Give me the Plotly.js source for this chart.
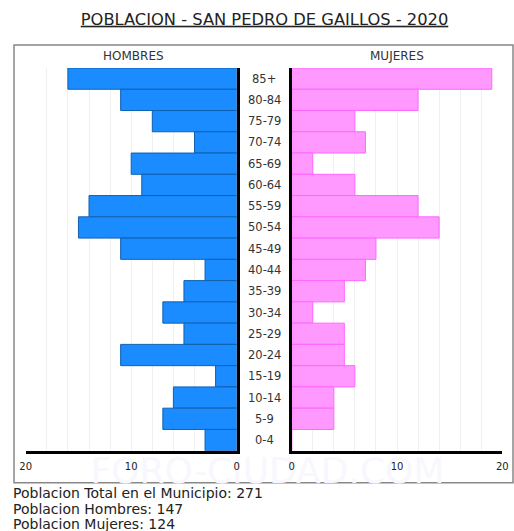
<!DOCTYPE html>
<html>
<head>
<meta charset="utf-8">
<script src="https://cdn.plot.ly/plotly-3.0.1.min.js"></script>
<style>
  html, body { margin: 0; padding: 0; background: #fff; }
  #chart { width: 514px; height: 531px; }
</style>
</head>
<body>
<div id="chart"></div>
<script>
const ages = ['85+','80-84','75-79','70-74','65-69','60-64','55-59','50-54','45-49','40-44','35-39','30-34','25-29','20-24','15-19','10-14','5-9','0-4'];
const hombres = [16,11,8,4,10,9,14,15,11,3,5,7,5,11,2,6,7,3];
const mujeres = [19,12,6,7,2,6,12,14,8,7,5,2,5,5,6,4,4,0];
const tickVals = [0,10,20];
const tickText = ['0','10','20'];
const totalText = 'Poblacion Total en el Municipio: 271';
const hombresText = 'Poblacion Hombres: 147';
const mujeresText = 'Poblacion Mujeres: 124';

const W = 514, H = 531;
const px = v => v / W;
const py = v => 1 - v / H;
const FONT = 'DejaVu Sans, Verdana, sans-serif';

const traces = [
  {type:'bar', orientation:'h', y: ages, x: hombres, xaxis:'x', yaxis:'y',
   marker:{color:'#1a8cff', line:{color:'#1060b0', width:1}}, width:1, hoverinfo:'none'},
  {type:'bar', orientation:'h', y: ages, x: mujeres, xaxis:'x2', yaxis:'y2',
   marker:{color:'#ff99ff', line:{color:'#ff66ff', width:1}}, width:1, hoverinfo:'none'}
];

const xCommon = {
  tickvals: tickVals, ticktext: tickText, showgrid: true, gridcolor:'#f0f0f0', gridwidth:1,
  minor: {dtick:2, tick0:0, showgrid:true, gridcolor:'#f0f0f0', gridwidth:1, ticklen:0},
  zeroline:false, showline:true, linecolor:'#000', linewidth:3, ticks:'',
  tickfont:{family:FONT, size:10, color:'#222'}, ticklabelstandoff: 4, fixedrange:true
};
const yCommon = {
  type:'category', categoryorder:'array', categoryarray: ages, autorange:'reversed',
  showticklabels:false, showgrid:false, zeroline:false, showline:true, linecolor:'#000', linewidth:3,
  ticks:'', domain:[py(450.7), py(68)], fixedrange:true
};

const annotations = ages.map(a => ({
  xref:'paper', yref:'y', x: px(264), y: a, text: a, showarrow:false,
  xanchor:'center', yanchor:'middle', font:{family:FONT, size:11.5, color:'#333'}
}));
annotations.push(
  {xref:'paper', yref:'paper', x: px(133), y: py(56), text:'HOMBRES', showarrow:false,
   xanchor:'center', yanchor:'middle', font:{family:FONT, size:12, color:'#333'}},
  {xref:'paper', yref:'paper', x: px(397), y: py(56), text:'MUJERES', showarrow:false,
   xanchor:'center', yanchor:'middle', font:{family:FONT, size:12, color:'#333'}},
  {xref:'paper', yref:'paper', x: px(11), y: py(493), text: totalText, showarrow:false,
   xanchor:'left', yanchor:'middle', font:{family:FONT, size:14, color:'#222'}},
  {xref:'paper', yref:'paper', x: px(11), y: py(508.5), text: hombresText, showarrow:false,
   xanchor:'left', yanchor:'middle', font:{family:FONT, size:14, color:'#222'}},
  {xref:'paper', yref:'paper', x: px(11), y: py(524), text: mujeresText, showarrow:false,
   xanchor:'left', yanchor:'middle', font:{family:FONT, size:14, color:'#222'}}
);

const layout = {
  width: W, height: H,
  margin:{l:0, r:0, t:0, b:0, pad:0},
  paper_bgcolor:'#fff', plot_bgcolor:'rgba(0,0,0,0)',
  showlegend:false, bargap:0,
  font:{family:FONT, color:'#222'},
  title:{text:'<u>POBLACION - SAN PEDRO DE GAILLOS - 2020</u>', x: px(264.5), xanchor:'center',
         y: py(19), yanchor:'middle', xref:'paper', yref:'paper',
         font:{family:FONT, size:16.3, color:'#222'}},
  xaxis: Object.assign({}, xCommon, {domain:[px(25.7), px(236.7)], range:[20,0], anchor:'y'}),
  yaxis: Object.assign({}, yCommon, {anchor:'x', side:'right'}),
  xaxis2: Object.assign({}, xCommon, {domain:[px(291.7), px(502.3)], range:[0,20], anchor:'y2'}),
  yaxis2: Object.assign({}, yCommon, {anchor:'x2', side:'left'}),
  shapes:[
    {type:'rect', xref:'paper', yref:'paper', x0: px(14), x1: px(513), y0: py(482.7), y1: py(45),
     line:{color:'#888', width:1.5}, fillcolor:'rgba(0,0,0,0)', layer:'below'},
    {type:'rect', xref:'paper', yref:'paper', x0: px(60), x1: px(475), y0: py(482), y1: py(452),
     line:{width:0}, fillcolor:'rgba(0,0,0,0)', layer:'below',
     label:{text:'FORO-CIUDAD.COM', textposition:'middle center',
            font:{family:FONT, size:36, color:'#f7f7fd'}}}
  ],
  annotations: annotations
};

Plotly.newPlot('chart', traces, layout, {staticPlot:true, displayModeBar:false});
</script>
</body>
</html>
